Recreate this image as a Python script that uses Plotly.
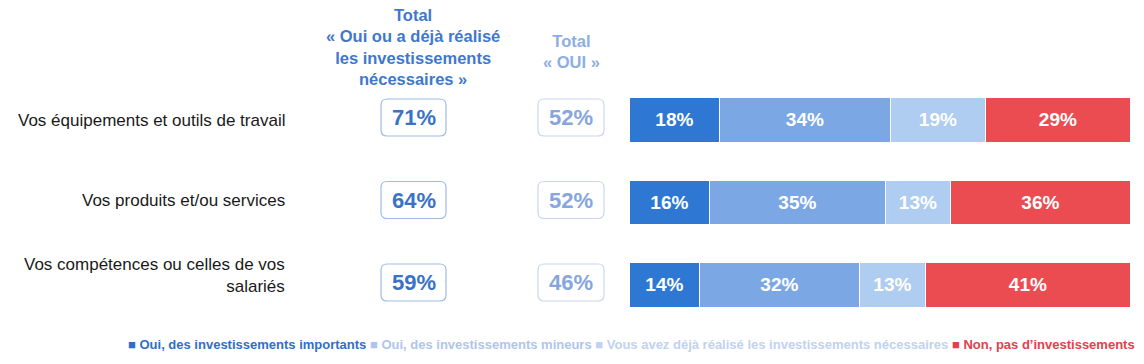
import plotly.graph_objects as go

categories = [
    "Vos équipements et outils de travail",
    "Vos produits et/ou services",
    "Vos compétences ou celles de vos<br>salariés",
]
series_names = [
    "Oui, des investissements importants",
    "Oui, des investissements mineurs",
    "Vous avez déjà réalisé les investissements nécessaires",
    "Non, pas d’investissements",
]
oui_importants = [18, 16, 14]
oui_mineurs = [34, 35, 32]
deja_realise = [19, 13, 13]
non = [29, 36, 41]
total_oui_deja = [71, 64, 59]
total_oui = [52, 52, 46]

series_values = [oui_importants, oui_mineurs, deja_realise, non]
colors = ["#2E78D3", "#7BA8E4", "#AFCCF1", "#EB4C52"]
legend_colors = ["#2E6FCB", "#AFC5EC", "#BFD2F0", "#E2414B"]

W, H = 1144, 364
ROW0_PX, ROW_STEP = 120.5, 82.5
y_top = -ROW0_PX / ROW_STEP
y_bot = (H - ROW0_PX) / ROW_STEP
ypos = list(range(len(categories)))

fig = go.Figure()
for name, vals, col in zip(series_names, series_values, colors):
    fig.add_trace(go.Bar(
        y=ypos, x=vals, name=name, orientation="h",
        marker=dict(color=col, line=dict(color="white", width=1.2)),
        width=0.545,
        text=[f"{v}%" for v in vals], textposition="inside",
        insidetextanchor="middle",
        textfont=dict(color="white", size=19, family="Liberation Sans, Arial", weight="bold"),
        showlegend=False,
    ))

fig.update_layout(
    barmode="stack",
    width=W, height=H,
    margin=dict(l=0, r=0, t=0, b=0),
    paper_bgcolor="white", plot_bgcolor="white",
    font=dict(family="Liberation Sans, Arial, sans-serif", color="#222"),
    xaxis=dict(domain=[630 / W, 1131 / W], range=[0, 100], visible=False),
    yaxis=dict(range=[y_bot, y_top], visible=False),
    bargap=0,
)

ann = []
shapes = []
# category labels
label_shift = [0, 3, 10]
for i, c in enumerate(categories):
    ann.append(dict(x=287 / W, xref="paper", y=i, yref="y", text=c,
                    showarrow=False, xanchor="right", yanchor="middle", align="right",
                    yshift=label_shift[i],
                    font=dict(size=17, color="#1a1a1a")))

def rounded_rect(x0p, x1p, yc, hpx, r, color):
    x0, x1 = x0p / W, x1p / W
    dy = hpx / 2 / ROW_STEP
    y0, y1 = yc - dy, yc + dy
    rx, ry = r / W, r / ROW_STEP
    path = (f"M {x0+rx},{y0} L {x1-rx},{y0} Q {x1},{y0} {x1},{y0+ry} "
            f"L {x1},{y1-ry} Q {x1},{y1} {x1-rx},{y1} L {x0+rx},{y1} "
            f"Q {x0},{y1} {x0},{y1-ry} L {x0},{y0+ry} Q {x0},{y0} {x0+rx},{y0} Z")
    return dict(type="path", path=path, xref="paper", yref="y",
                line=dict(color=color, width=1.2), fillcolor="white", layer="above")

box_off = -3 / ROW_STEP
for i in ypos:
    yc = i + box_off
    shapes.append(rounded_rect(381, 446, yc, 37, 6, "#9FBBE6"))
    shapes.append(rounded_rect(538, 604, yc, 37, 6, "#CAD7EE"))
    ann.append(dict(x=413.5 / W, xref="paper", y=yc, yref="y", text=f"{total_oui_deja[i]}%",
                    showarrow=False, xanchor="center", yanchor="middle",
                    font=dict(size=22, color="#3A72C8", weight="bold")))
    ann.append(dict(x=571 / W, xref="paper", y=yc, yref="y", text=f"{total_oui[i]}%",
                    showarrow=False, xanchor="center", yanchor="middle",
                    font=dict(size=22, color="#86A6DD", weight="bold")))

# headers
ann.append(dict(x=413 / W, xref="paper", y=1 - 4 / H, yref="paper",
                text="Total<br>« Oui ou a déjà réalisé<br>les investissements<br>nécessaires »",
                showarrow=False, xanchor="center", yanchor="top", align="center",
                font=dict(size=16.5, color="#3F78CC", weight="bold")))
ann.append(dict(x=571 / W, xref="paper", y=1 - 30 / H, yref="paper",
                text="Total<br>« OUI »",
                showarrow=False, xanchor="center", yanchor="top", align="center",
                font=dict(size=16.5, color="#8DAEE2", weight="bold")))

# legend
legend_text = " ".join(
    f"<span style='color:{c}'>■ {n}</span>" for n, c in zip(series_names, legend_colors))
ann.append(dict(x=1137 / W, xref="paper", y=1 - 344 / H, yref="paper", text=legend_text,
                showarrow=False, xanchor="right", yanchor="middle",
                font=dict(size=13, weight="bold")))

fig.update_layout(annotations=ann, shapes=shapes)
fig.write_html("out.html", config={"displayModeBar": False},
               post_script="document.body.style.margin='0';document.body.style.padding='0';")
